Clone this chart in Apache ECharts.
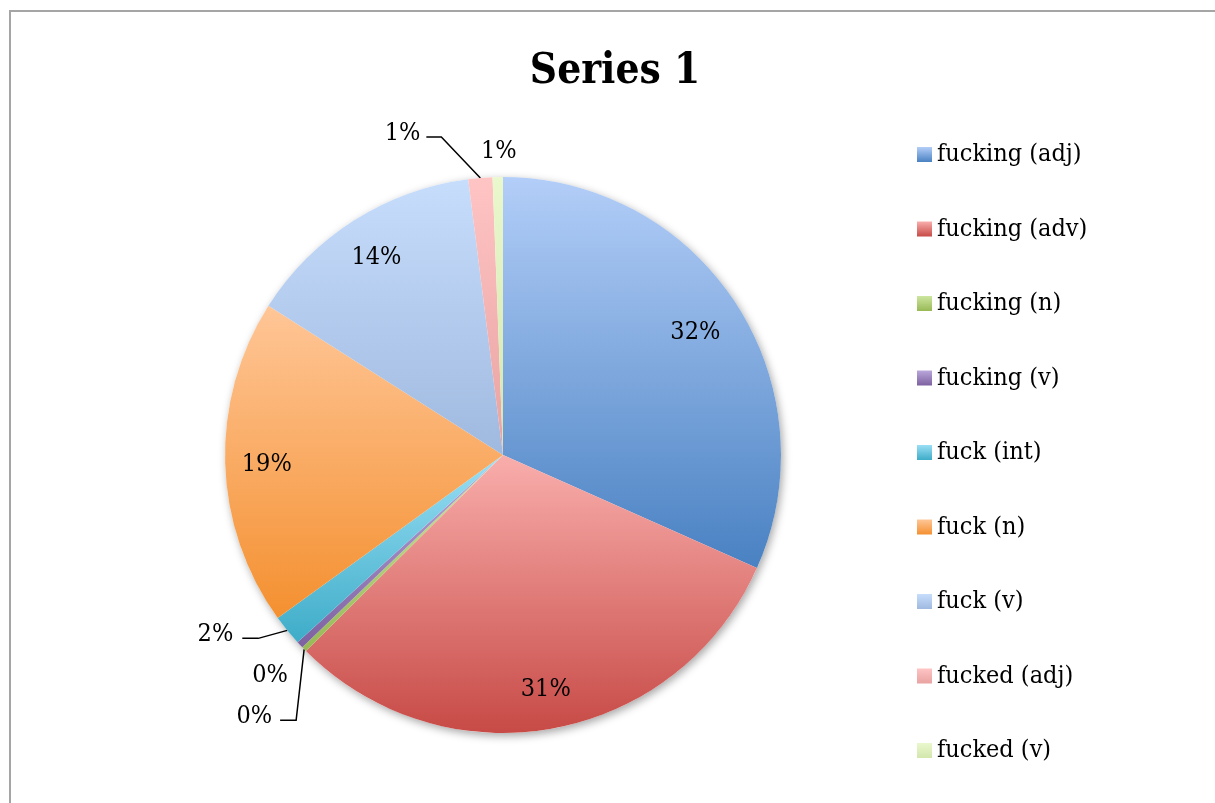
<!DOCTYPE html>
<html>
<head>
<meta charset="utf-8">
<title>Series 1</title>
<script src="https://cdn.jsdelivr.net/npm/echarts@6/dist/echarts.min.js"></script>
<style>
  html, body { margin: 0; padding: 0; background: #ffffff; }
  #chart { width: 1215px; height: 803px; }
</style>
</head>
<body>
<div id="chart"></div>
<script>
// Word forms and their share of occurrences (percent)
const categories = [
  'fucking (adj)', 'fucking (adv)', 'fucking (n)', 'fucking (v)',
  'fuck (int)', 'fuck (n)', 'fuck (v)', 'fucked (adj)', 'fucked (v)'
];
const shares = [31.7, 30.9, 0.3, 0.4, 1.8, 19.0, 14.0, 1.4, 0.6];

const FONT = '"DejaVu Serif Condensed", "DejaVu Serif", serif';

// Slice fills: light at the top of each slice, deeper at the bottom
const sliceGradients = [
  ['#b3cef8', '#4981c2'],
  ['#f9aeac', '#c74a46'],
  ['#cde6a0', '#98b955'],
  ['#baa7db', '#7d61a0'],
  ['#9adff5', '#3eacc8'],
  ['#ffc697', '#f49030'],
  ['#c7ddfc', '#9fb9df'],
  ['#ffc4c4', '#e8a2a1'],
  ['#eaf8cd', '#d2e6ac']
];

// Callout placement for the thin slices, relative to the slice's rim point
const callouts = {
  'fucked (adj)': { text: [-60, -47], align: 'right', line: [[-39, -41], [-54, -41]] },
  'fucked (v)':   { text: [1, -28], align: 'center', line: null },
  'fuck (int)':   { text: [-54, 2], align: 'right', line: [[-29, 8], [-45, 8]] },
  'fucking (v)':  { text: [-12, 28], align: 'right', line: null },
  'fucking (n)':  { text: [-32, 65], align: 'right', line: [[-8, 71], [-24, 71]] }
};
// Distance of the in-slice labels from the centre, as a fraction of the radius
const insideLabelRadius = { 'fucking (adj)': 0.825 };
const DEFAULT_INSIDE_RADIUS = 0.85;
const TEXT_NUDGE_Y = 2.5;

const total = shares.reduce((a, b) => a + b, 0);

const chart = echarts.init(document.getElementById('chart'), null, { renderer: 'canvas' });

const pieData = categories.map((name, i) => ({
  name: name,
  value: shares[i],
  itemStyle: {
    color: new echarts.graphic.LinearGradient(0, 0, 0, 1, [
      { offset: 0, color: sliceGradients[i][0] },
      { offset: 1, color: sliceGradients[i][1] }
    ])
  },
  labelLine: { show: !!(callouts[name] && callouts[name].line) }
}));

function rimPoint(layout, radius) {
  const mid = (layout.startAngle + layout.endAngle) / 2;
  return [layout.cx + radius * Math.cos(mid), layout.cy + radius * Math.sin(mid)];
}

const option = {
  backgroundColor: '#ffffff',
  animation: false,
  title: {
    text: 'Series 1',
    left: 610,
    textAlign: 'center',
    top: 46,
    textStyle: { fontFamily: FONT, fontSize: 42, fontWeight: 'bold', color: '#000000' }
  },
  legend: {
    orient: 'vertical',
    left: 917,
    top: 142,
    padding: 0,
    data: categories,
    icon: 'rect',
    itemWidth: 15,
    itemHeight: 15,
    itemGap: 49.5,
    textStyle: { fontFamily: FONT, fontSize: 25, lineHeight: 25, color: '#000000' }
  },
  graphic: [{
    type: 'rect',
    silent: true,
    shape: { x: 10, y: 11, width: 1400, height: 1000 },
    style: { fill: 'none', stroke: '#a5a5a5', lineWidth: 2 }
  }],
  series: [
    {
      // soft drop shadow under the whole pie
      type: 'pie',
      silent: true,
      center: [503, 455],
      radius: [0, 278],
      z: 1,
      label: { show: false },
      labelLine: { show: false },
      data: [{ name: 'shadow', value: total }],
      itemStyle: {
        color: '#ffffff',
        shadowBlur: 8,
        shadowColor: 'rgba(0,0,0,0.35)',
        shadowOffsetX: 2,
        shadowOffsetY: 3
      }
    },
    {
      type: 'pie',
      center: [503, 455],
      radius: [0, 278],
      startAngle: 90,
      clockwise: true,
      z: 2,
      avoidLabelOverlap: false,
      itemStyle: { borderWidth: 0 },
      label: {
        show: true,
        position: 'outside',
        fontFamily: FONT,
        fontSize: 25,
        color: '#000000',
        formatter: p => Math.round(p.value / total * 100) + '%'
      },
      labelLine: {
        show: true,
        length: 10,
        length2: 10,
        lineStyle: { color: '#000000', width: 1.5 }
      },
      labelLayout: function (params) {
        const series = chart.getModel().getSeriesByIndex(params.seriesIndex);
        const data = series.getData();
        const layout = data.getItemLayout(params.dataIndex);
        const name = data.getName(params.dataIndex);
        const c = callouts[name];
        if (!c) {
          const f = insideLabelRadius[name] || DEFAULT_INSIDE_RADIUS;
          const p = rimPoint(layout, layout.r * f);
          return { x: p[0], y: p[1] + TEXT_NUDGE_Y, align: 'center', verticalAlign: 'middle' };
        }
        const a = rimPoint(layout, layout.r);
        const out = {
          x: a[0] + c.text[0],
          y: a[1] + c.text[1] + TEXT_NUDGE_Y,
          align: c.align,
          verticalAlign: 'middle'
        };
        if (c.line) {
          out.labelLinePoints = [
            a,
            [a[0] + c.line[0][0], a[1] + c.line[0][1]],
            [a[0] + c.line[1][0], a[1] + c.line[1][1]]
          ];
        }
        return out;
      },
      data: pieData
    }
  ]
};

chart.setOption(option);
</script>
</body>
</html>
